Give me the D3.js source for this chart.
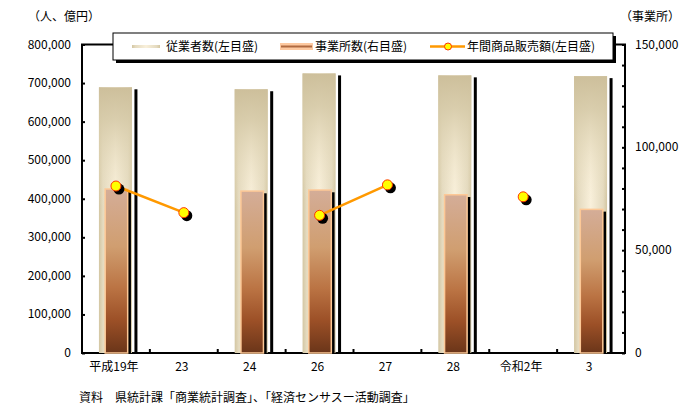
<!DOCTYPE html>
<html>
<head>
<meta charset="utf-8">
<script src="https://cdn.jsdelivr.net/npm/d3@7"></script>
<style>
  body { margin: 0; background: #fff; }
  text { font-family: "Noto Sans CJK JP", "Liberation Sans", sans-serif; font-size: 12px; fill: #000; }
</style>
</head>
<body>
<svg id="chart" width="687" height="419"></svg>
<script>
// données
const years = ["平成19年", "23", "24", "26", "27", "28", "令和2年", "3"];
const employees = [689000, null, 684000, 725000, null, 720000, null, 718000];   // 従業者数 (左)
const offices = [80100, null, 79100, 79600, null, 77300, null, 70200];          // 事業所数 (右)
const sales = [433000, 364000, null, 357000, 436000, null, 405000, null];       // 年間商品販売額 (左)
const leftTicks = [0, 100000, 200000, 300000, 400000, 500000, 600000, 700000, 800000];
const rightTicks = d3.range(0, 150001, 10000);
const rightLabels = [0, 50000, 100000, 150000];

const svg = d3.select("#chart");
const m = {l: 82, r: 625, t: 44.5, b: 353};

let x = d3.scaleBand().domain(years).range([m.l, m.r]),
    yL = d3.scaleLinear().domain([0, 800000]).range([m.b, m.t]),
    yR = d3.scaleLinear().domain([0, 150000]).range([m.b, m.t]),
    cx = d => x(d) + x.bandwidth() / 2,
    fmt = d3.format(",");

// dégradés
const defs = svg.append("defs");
function grad(id, stops, vertical) {
    let g = defs.append("linearGradient").attr("id", id)
        .attr("x1", 0).attr("y1", 0)
        .attr("x2", vertical ? 0 : 1).attr("y2", vertical ? 1 : 0);
    stops.forEach(s => g.append("stop").attr("offset", s[0])
        .attr("stop-color", s[1]).attr("stop-opacity", s[2] == null ? 1 : s[2]));
}
grad("empH", [[0, "#d3c6a2"], [0.12, "#e4dabf"], [0.5, "#f9f0db"], [0.88, "#e4dabf"], [1, "#d3c6a2"]], false);
grad("empV", [[0, "#cdbf9b"], [0.12, "#d6caa8", 0.9], [0.45, "#efe5c9", 0.0], [1, "#fff", 0]], true);
grad("offV", [[0, "#d4ad98"], [0.35, "#d09e70"], [0.6, "#bb7444"], [0.8, "#9c5027"], [1, "#6a3519"]], true);

// cadre
svg.append("rect").attr("x", m.l).attr("y", m.t)
    .attr("width", m.r - m.l).attr("height", m.b - m.t)
    .attr("fill", "none").attr("stroke", "#000").attr("stroke-width", 2);

// 従業者数
const emp = years.map((k, i) => ({k, v: employees[i]})).filter(d => d.v != null);
svg.selectAll(".empShadow").data(emp).enter().append("rect")
    .attr("x", d => cx(d.k) + 18.5).attr("y", d => yL(d.v) + 2)
    .attr("width", 3).attr("height", d => m.b - yL(d.v) - 2).attr("fill", "#000");
svg.selectAll(".emp").data(emp).enter().append("rect")
    .attr("x", d => cx(d.k) - 17).attr("y", d => yL(d.v))
    .attr("width", 33).attr("height", d => m.b - yL(d.v)).attr("fill", "url(#empH)");
svg.selectAll(".empTop").data(emp).enter().append("rect")
    .attr("x", d => cx(d.k) - 17).attr("y", d => yL(d.v))
    .attr("width", 33).attr("height", d => m.b - yL(d.v)).attr("fill", "url(#empV)");

// 事業所数
const off = years.map((k, i) => ({k, v: offices[i]})).filter(d => d.v != null);
svg.selectAll(".offShadow").data(off).enter().append("rect")
    .attr("x", d => cx(d.k) + 12).attr("y", d => yR(d.v) + 3)
    .attr("width", 3).attr("height", d => m.b - yR(d.v) - 3).attr("fill", "#000");
svg.selectAll(".off").data(off).enter().append("rect")
    .attr("x", d => cx(d.k) - 10.75).attr("y", d => yR(d.v) + 0.75)
    .attr("width", 22.5).attr("height", d => m.b - yR(d.v) - 0.75)
    .attr("fill", "url(#offV)").attr("stroke", "#fdc896").attr("stroke-width", 1.5);

// axes
svg.append("g").attr("transform", `translate(${m.l},0)`)
    .call(d3.axisRight(yL).tickValues(leftTicks).tickSize(3).tickFormat(""))
    .call(g => g.select(".domain").remove())
    .call(g => g.selectAll("line").attr("stroke-width", 2));
svg.append("g").selectAll("text").data(leftTicks).enter().append("text")
    .attr("x", 71).attr("y", d => yL(d) + 4).attr("text-anchor", "end").text(fmt);

svg.append("g").attr("transform", `translate(${m.r},0)`)
    .call(d3.axisLeft(yR).tickValues(rightTicks).tickSize(3).tickFormat(""))
    .call(g => g.select(".domain").remove())
    .call(g => g.selectAll("line").attr("stroke-width", 2));
svg.append("g").selectAll("text").data(rightLabels).enter().append("text")
    .attr("x", 635).attr("y", d => yR(d) + 4).text(fmt);

svg.append("g").selectAll("line").data(years.slice(1)).enter().append("line")
    .attr("x1", d => x(d)).attr("x2", d => x(d))
    .attr("y1", m.b).attr("y2", m.b - 4).attr("stroke", "#000").attr("stroke-width", 2);
svg.append("g").selectAll("text").data(years).enter().append("text")
    .attr("x", d => cx(d) - 2).attr("y", 371).attr("text-anchor", "middle").text(d => d);

// 年間商品販売額
const sal = years.map((k, i) => ({k, v: sales[i]}));
svg.append("path").datum(sal)
    .attr("d", d3.line().defined(d => d.v != null).x(d => cx(d.k)).y(d => yL(d.v)))
    .attr("fill", "none").attr("stroke", "#ff9900").attr("stroke-width", 2.5);
const pts = sal.filter(d => d.v != null);
svg.selectAll(".salShadow").data(pts).enter().append("circle")
    .attr("cx", d => cx(d.k) + 3).attr("cy", d => yL(d.v) + 3).attr("r", 5.5).attr("fill", "#000");
svg.selectAll(".sal").data(pts).enter().append("circle")
    .attr("cx", d => cx(d.k)).attr("cy", d => yL(d.v)).attr("r", 5)
    .attr("fill", "#ffff00").attr("stroke", "#ff3300").attr("stroke-width", 1);

// légende
const lg = svg.append("g");
lg.append("rect").attr("x", 116).attr("y", 36).attr("width", 500).attr("height", 27).attr("fill", "#000");
lg.append("rect").attr("x", 113).attr("y", 33).attr("width", 500).attr("height", 27)
    .attr("fill", "#fff").attr("stroke", "#000").attr("stroke-width", 1);
lg.append("rect").attr("x", 132).attr("y", 45).attr("width", 28).attr("height", 3).attr("fill", "url(#empH)");
lg.append("text").attr("x", 166).attr("y", 51).text("従業者数(左目盛)");
lg.append("rect").attr("x", 280).attr("y", 43).attr("width", 33).attr("height", 7).attr("fill", "#fdc9a0");
lg.append("rect").attr("x", 281).attr("y", 45.5).attr("width", 31).attr("height", 2).attr("fill", "#b06a40");
lg.append("text").attr("x", 315).attr("y", 51).text("事業所数(右目盛)");
lg.append("line").attr("x1", 430).attr("x2", 465).attr("y1", 46.5).attr("y2", 46.5)
    .attr("stroke", "#ff9900").attr("stroke-width", 2.5);
lg.append("circle").attr("cx", 448).attr("cy", 46.5).attr("r", 3.5)
    .attr("fill", "#ffff00").attr("stroke", "#ff3300").attr("stroke-width", 1);
lg.append("text").attr("x", 467).attr("y", 51).text("年間商品販売額(左目盛)");

// titres d'axes et source
svg.append("text").attr("x", 28).attr("y", 21).text("（人、億円）");
svg.append("text").attr("x", 620).attr("y", 21).text("（事業所）");
svg.append("text").attr("x", 79).attr("y", 402).text("資料　県統計課「商業統計調査」、「経済センサスー活動調査」");
</script>
</body>
</html>
